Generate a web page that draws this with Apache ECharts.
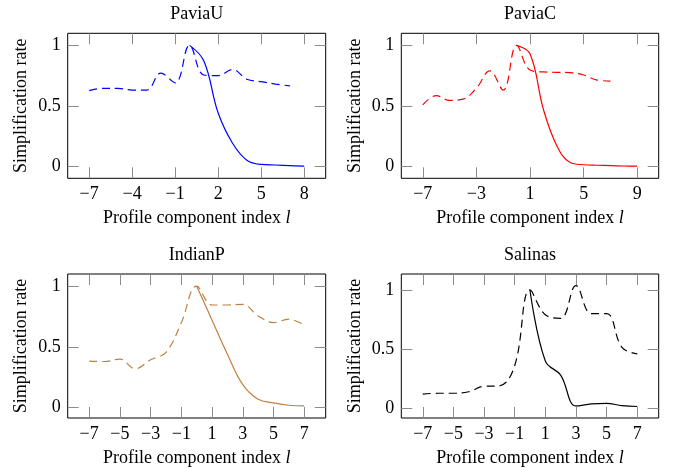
<!DOCTYPE html>
<html><head><meta charset="utf-8">
<script src="https://cdn.jsdelivr.net/npm/echarts@6/dist/echarts.min.js"></script>
<style>html,body{margin:0;padding:0;background:#fff}#c{width:676px;height:468px}</style>
</head><body><div id="c"></div>
<script>
// ---- data ----
const titles = ['PaviaU', 'PaviaC', 'IndianP', 'Salinas'];
const colors = ['#0000ff', '#ff0000', '#bf8040', '#000000'];

const paviaUSolidX = [0, 1, 2, 3, 4, 5, 6, 7, 8];
const paviaUSolidY = [1.0, 0.87, 0.44, 0.19, 0.05, 0.015, 0.01, 0.005, 0.0];
const paviaUDashX = [-7, -6, -5, -4, -3, -2, -1, 0, 1, 2, 3, 4, 5, 6, 7];
const paviaUDashY = [0.625, 0.645, 0.645, 0.63, 0.63, 0.77, 0.69, 1.0, 0.755, 0.75, 0.80, 0.72, 0.70, 0.68, 0.665];

const paviaCSolidX = [0, 1, 2, 3, 4, 5, 6, 7, 8, 9];
const paviaCSolidY = [1.0, 0.93, 0.47, 0.17, 0.03, 0.012, 0.008, 0.005, 0.002, 0.0];
const paviaCDashX = [-7, -6, -5, -4, -3, -2, -1, 0, 1, 2, 3, 4, 5, 6, 7];
const paviaCDashY = [0.507, 0.584, 0.545, 0.555, 0.645, 0.79, 0.63, 1.0, 0.796, 0.78, 0.777, 0.774, 0.755, 0.713, 0.705];

const indianPSolidX = [0, 1, 2, 3, 4, 5, 6, 7];
const indianPSolidY = [1.0, 0.72, 0.44, 0.19, 0.07, 0.04, 0.02, 0.015];
const indianPDashX = [-7, -6, -5, -4, -3, -2, -1, 0, 1, 2, 3, 4, 5, 6, 7];
const indianPDashY = [0.383, 0.38, 0.40, 0.32, 0.394, 0.456, 0.70, 1.0, 0.845, 0.845, 0.85, 0.755, 0.70, 0.728, 0.68];

const salinasSolidX = [0, 1, 2, 3, 4, 5, 6, 7];
const salinasSolidY = [1.0, 0.40, 0.28, 0.02, 0.037, 0.042, 0.022, 0.015];
const salinasDashX = [-7, -6, -5, -4, -3, -2, -1, 0, 1, 2, 3, 4, 5, 6, 7];
const salinasDashY = [0.12, 0.127, 0.127, 0.14, 0.186, 0.19, 0.36, 1.0, 0.79, 0.76, 1.037, 0.80, 0.80, 0.515, 0.46];

const xTicks = [[-7, -4, -1, 2, 5, 8], [-7, -3, 1, 5, 9], [-7, -5, -3, -1, 1, 3, 5, 7], [-7, -5, -3, -1, 1, 3, 5, 7]];
const yTicks = [0, 0.5, 1];
const xRanges = [[-8.5, 9.5], [-8.6, 10.6], [-8.4, 8.4], [-8.4, 8.4]];
const yRanges = [[-0.1, 1.1], [-0.1, 1.1], [-0.085, 1.1], [-0.082, 1.135]];

const xName = 'Profile component index {i|l}';
const yName = 'Simplification rate';

// ---- layout ----
const grids = [
  {left: 67.7, top: 33.3, width: 258, height: 145},
  {left: 401.3, top: 33.3, width: 257.4, height: 145},
  {left: 67.7, top: 274, width: 258, height: 144},
  {left: 401.3, top: 274, width: 257.4, height: 144}
];
const titleY = [14.6, 14.6, 255.3, 255.3];

const FONT = 'Liberation Serif';
const pairs = (xs, ys) => xs.map((x, i) => [x, ys[i]]);
const solids = [pairs(paviaUSolidX, paviaUSolidY), pairs(paviaCSolidX, paviaCSolidY), pairs(indianPSolidX, indianPSolidY), pairs(salinasSolidX, salinasSolidY)];
const dashes = [pairs(paviaUDashX, paviaUDashY), pairs(paviaCDashX, paviaCDashY), pairs(indianPDashX, indianPDashY), pairs(salinasDashX, salinasDashY)];
const fmt = v => (v < 0 ? '\u2212' + Math.abs(v) : String(v));

const tickStyle = {lineStyle: {color: '#8c8c8c', width: 1}, inside: true, length: 11};
const noLine = {show: false, onZero: false};
const option = {
  animation: false,
  backgroundColor: '#fff',
  grid: grids.map(g => Object.assign({show: true, borderColor: '#000', borderWidth: 1, containLabel: false}, g)),
  xAxis: [], yAxis: [], series: [],
  graphic: titles.map((t, k) => ({
    type: 'text', x: grids[k].left + grids[k].width / 2, y: titleY[k],
    style: {text: t, font: '18px "' + FONT + '"', fill: '#000', align: 'center', verticalAlign: 'middle'}
  }))
};

for (let k = 0; k < 4; k++) {
  const [xmin, xmax] = xRanges[k];
  const [ymin, ymax] = yRanges[k];
  option.xAxis.push({
    type: 'value', gridIndex: k, position: 'bottom', min: xmin, max: xmax,
    axisLine: noLine, splitLine: {show: false},
    axisTick: Object.assign({customValues: xTicks[k]}, tickStyle),
    axisLabel: {customValues: xTicks[k], formatter: fmt, fontFamily: FONT, fontSize: 18, color: '#000', margin: 7},
    name: xName, nameLocation: 'middle', nameGap: 31,
    nameTextStyle: {fontFamily: FONT, fontSize: 18, color: '#000',
      rich: {i: {fontStyle: 'italic', fontFamily: FONT, fontSize: 18, color: '#000'}}}
  });
  option.xAxis.push({
    type: 'value', gridIndex: k, position: 'top', min: xmin, max: xmax,
    axisLine: noLine, splitLine: {show: false},
    axisTick: Object.assign({customValues: xTicks[k]}, tickStyle),
    axisLabel: {show: false}
  });
  option.yAxis.push({
    type: 'value', gridIndex: k, position: 'left', min: ymin, max: ymax,
    axisLine: noLine, splitLine: {show: false},
    axisTick: Object.assign({customValues: yTicks}, tickStyle),
    axisLabel: {customValues: yTicks, formatter: fmt, fontFamily: FONT, fontSize: 18, color: '#000', margin: 7},
    name: yName, nameLocation: 'middle', nameGap: 37,
    nameTextStyle: {fontFamily: FONT, fontSize: 18, color: '#000'}
  });
  option.yAxis.push({
    type: 'value', gridIndex: k, position: 'right', min: ymin, max: ymax,
    axisLine: noLine, splitLine: {show: false},
    axisTick: Object.assign({customValues: yTicks}, tickStyle),
    axisLabel: {show: false}
  });
  option.series.push({
    type: 'line', xAxisIndex: 2 * k, yAxisIndex: 2 * k, data: solids[k], smooth: 0.4,
    showSymbol: false, lineStyle: {color: colors[k], width: 1.2}
  });
  option.series.push({
    type: 'line', xAxisIndex: 2 * k, yAxisIndex: 2 * k, data: dashes[k], smooth: 0.4,
    showSymbol: false, lineStyle: {color: colors[k], width: 1.2, type: [8, 5]}
  });
}

const chart = echarts.init(document.getElementById('c'), null, {renderer: 'canvas'});
chart.setOption(option);
</script></body></html>
